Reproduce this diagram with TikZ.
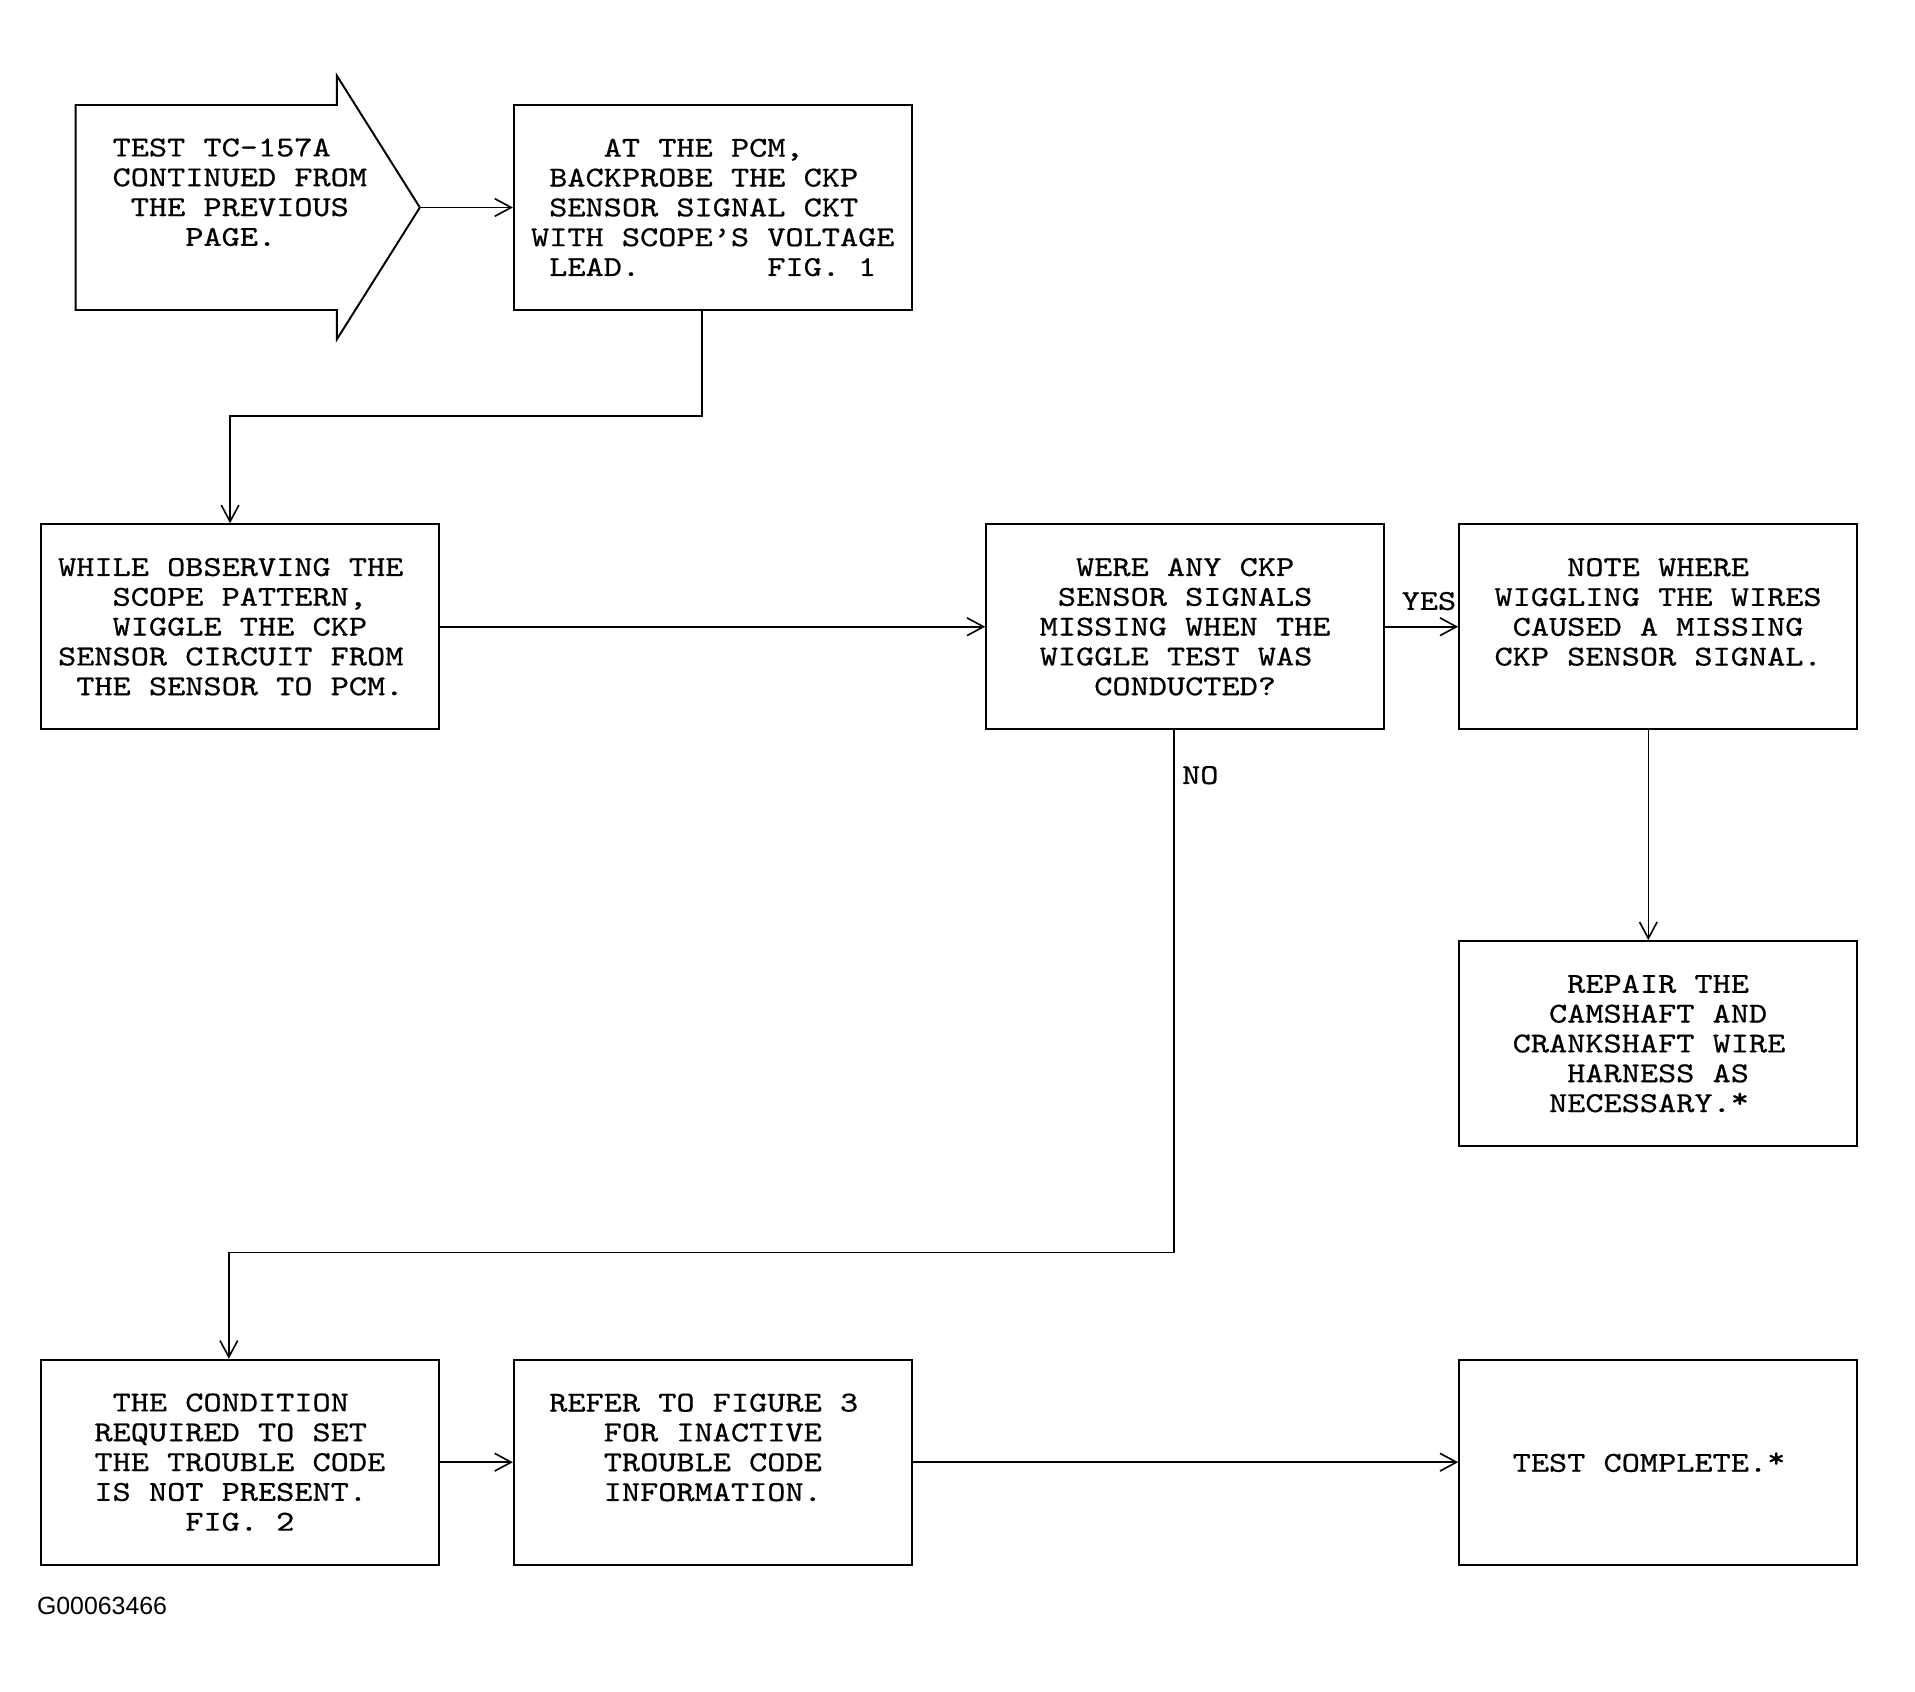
\documentclass[tikz,border=0pt]{standalone}
\usepackage{fontspec}
\newfontfamily\boxfont{lmmono10-regular.otf}[FakeStretch=1.2, FakeBold=0.6]
\newfontfamily\tagfont{Liberation Sans}
\usetikzlibrary{arrows.meta}
\newcommand{\upstar}{\raisebox{.35ex}{*}}

\begin{document}
\begin{tikzpicture}[
    box/.style={draw, line width=0.9pt, minimum width=6.52cm, minimum height=3.36cm,
        inner sep=0pt, align=left, font=\boxfont\fontsize{13.45}{13.9}\selectfont},
    lbl/.style={font=\boxfont\fontsize{13.45}{13.9}\selectfont},
    flow/.style={line width=0.75pt, -{Straight Barb[length=2.7mm, width=2.9mm]}}
]
    \path[use as bounding box, fill=white] (0,0) rectangle (31.38,-27.71);
    % Arrow shape
    \draw[line width=0.9pt] (1.24,-1.72) -- (5.52,-1.72) -- (5.52,-1.24) -- (6.88,-3.40)
        -- (5.52,-5.56) -- (5.52,-5.08) -- (1.24,-5.08) -- cycle;
    \coordinate (Atip) at (6.88,-3.40);
    % Nodes
    \node[lbl, align=left] (A) at (3.93,-3.15) {TEST TC-157A\\CONTINUED FROM\\\hphantom{0}THE PREVIOUS\\\hphantom{0000}PAGE.};
    \node[box] (B) at (11.68,-3.40) {\hphantom{0000}AT THE PCM,\\\hphantom{0}BACKPROBE THE CKP\\\hphantom{0}SENSOR SIGNAL CKT\\WITH SCOPE’S VOLTAGE\\\hphantom{0}LEAD.\hphantom{0000000}FIG. 1};
    \node[box] (C) at (3.93,-10.27) {WHILE OBSERVING THE\hphantom{0}\\\hphantom{000}SCOPE PATTERN,\\\hphantom{000}WIGGLE THE CKP\\SENSOR CIRCUIT FROM\\\hphantom{0}THE SENSOR TO PCM.};
    \node[box] (D) at (19.42,-10.27) {\hphantom{00}WERE ANY CKP\\\hphantom{0}SENSOR SIGNALS\\MISSING WHEN THE\\WIGGLE TEST WAS\\\hphantom{000}CONDUCTED?};
    \node[box] (E) at (27.17,-10.27) {\hphantom{0000}NOTE WHERE\\WIGGLING THE WIRES\\\hphantom{0}CAUSED A MISSING\\CKP SENSOR SIGNAL.\\\mbox{}};
    \node[box] (F) at (27.17,-17.10) {\hphantom{000}REPAIR THE\\\hphantom{00}CAMSHAFT AND\\CRANKSHAFT WIRE\hphantom{0}\\\hphantom{000}HARNESS AS\\\hphantom{00}NECESSARY.\upstar};
    \node[box] (G) at (3.93,-23.96) {\hphantom{0}THE CONDITION\\REQUIRED TO SET\\THE TROUBLE CODE\\IS NOT PRESENT.\\\hphantom{00000}FIG. 2};
    \node[box] (H) at (11.68,-23.96) {REFER TO FIGURE 3\hphantom{0}\\\hphantom{000}FOR INACTIVE\\\hphantom{000}TROUBLE CODE\\\hphantom{000}INFORMATION.\\\mbox{}};
    \node[box] (I) at (27.17,-23.96) {TEST COMPLETE.\upstar\hphantom{0}};
    \node[font=\tagfont\fontsize{11.6}{14}\selectfont, anchor=west, inner sep=0pt] (tag) at (0.60,-26.32) {G00063466};
    % Arrows
    \draw[flow] (Atip) -- (B);
    \draw[flow] ([xshift=-1.8mm]B.south) -- ++(0,-1.72) -| ([xshift=-1.6mm]C.north);
    \draw[flow] (C) -- (D);
    \draw[flow] (D) -- (E) node[pos=0.6, above=4pt, lbl] {YES};
    \draw[flow] ([xshift=-1.6mm]E.south) -- ([xshift=-1.6mm]F.north);
    \draw[flow] ([xshift=-1.8mm]D.south) -- ++(0,-8.56) node[pos=0.086, right, lbl] {NO} -| ([xshift=-1.8mm]G.north);
    \draw[flow] (G) -- (H);
    \draw[flow] (H) -- (I);
\end{tikzpicture}
\end{document}
